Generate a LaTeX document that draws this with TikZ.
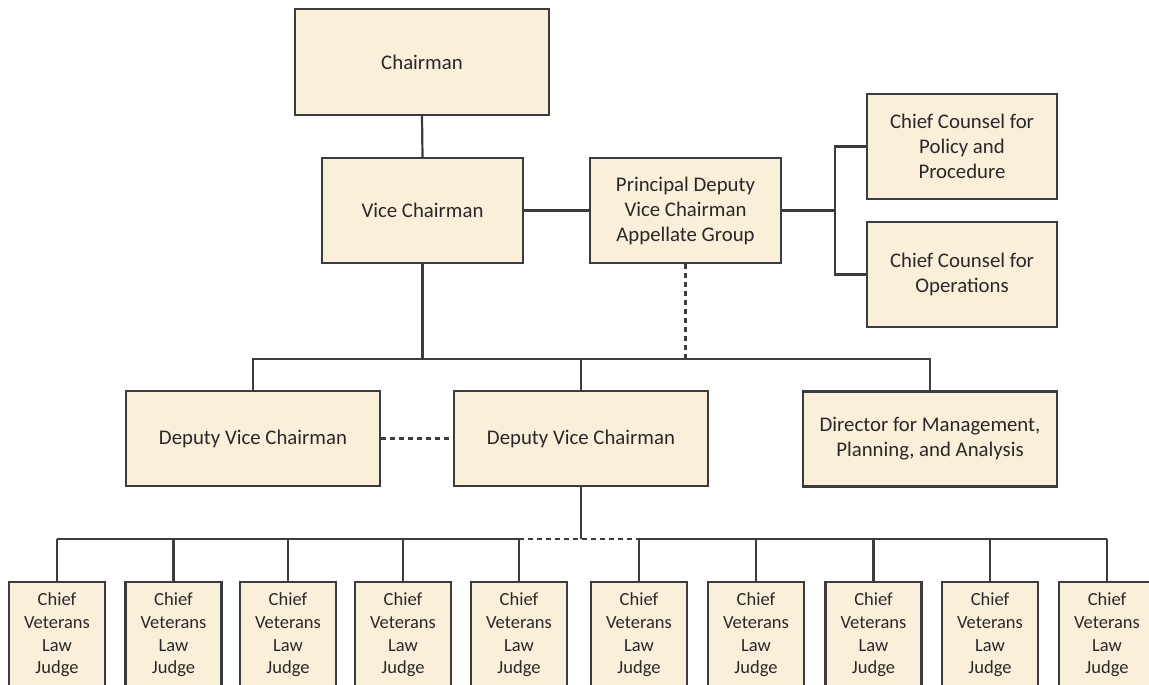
\documentclass[tikz,border=0pt]{standalone}
\usepackage{fontspec}
\setmainfont{Carlito}
\definecolor{boxfill}{RGB}{250,240,218}
\definecolor{boxline}{RGB}{60,60,60}
\definecolor{txt}{RGB}{40,40,40}
\tikzset{
  orgbox/.style={draw=boxline, fill=boxfill, line width=2.2pt, align=center,
    text=txt, font=\fontsize{20.8}{25}\selectfont, inner sep=0pt},
  judgebox/.style={orgbox, font=\fontsize{18.5}{22.7}\selectfont,
    minimum width=96pt, minimum height=106pt, anchor=north},
  link/.style={draw=boxline, line width=2.2pt},
  dlink/.style={link, dash pattern=on 5pt off 4pt},
}
\begin{document}
\begin{tikzpicture}[x=1pt,y=-1pt]
\useasboundingbox (0,0) rectangle (1149,685);
\clip (0,0) rectangle (1149,685);
\fill[white] (0,0) rectangle (1149,685);
\node[orgbox, minimum width=254pt, minimum height=106pt] (chair) at (422,62) {Chairman};
\node[orgbox, minimum width=201pt, minimum height=105pt] (vc) at (422.5,210.5) {Vice Chairman};
\node[orgbox, minimum width=191pt, minimum height=105pt] (pdvc) at (685.5,210.5) {Principal Deputy\\Vice Chairman\\Appellate Group};
\node[orgbox, minimum width=190pt, minimum height=105pt] (ccpp) at (962,146.5) {Chief Counsel for\\Policy and\\Procedure};
\node[orgbox, minimum width=190pt, minimum height=105pt] (ccops) at (962,274.5) {Chief Counsel for\\Operations};
\node[orgbox, minimum width=254pt, minimum height=95pt] (dvc1) at (253,438.5) {Deputy Vice Chairman};
\node[orgbox, minimum width=254pt, minimum height=95pt] (dvc2) at (581,438.5) {Deputy Vice Chairman};
\node[orgbox, minimum width=254pt, minimum height=95pt] (dir) at (930,439) {Director for Management,\\Planning, and Analysis};
\foreach \i/\x in {1/57,2/173.5,3/288,4/403,5/519,6/639,7/756,8/873.5,9/990,10/1107}{
  \node[judgebox] (j\i) at (\x,581) {Chief\\Veterans\\Law\\Judge};
}
\coordinate (bx) at (835,0);
\coordinate (b2) at (0,359);
\coordinate (b3) at (0,539);
\draw[link] (chair.south) -- (vc.north);
\draw[link] (vc.east) -- (pdvc.west);
\draw[link] (pdvc.east) -- (pdvc.east -| bx);
\draw[link] (ccpp.west) -- (ccpp.west -| bx) -- (ccops.west -| bx) -- (ccops.west);
\draw[link] (vc.south) -- (vc.south |- b2);
\draw[link] (dvc1.north) -- (dvc1.north |- b2) -- (dir.north |- b2) -- (dir.north);
\draw[link] (dvc2.north) -- (dvc2.north |- b2);
\draw[dlink] (pdvc.south) -- (pdvc.south |- b2);
\draw[dlink] (dvc1.east) -- (dvc2.west);
\draw[link] (dvc2.south) -- (dvc2.south |- b3);
\draw[link] (j1.north |- b3) -- (j5.north |- b3);
\draw[dlink] (j5.north |- b3) -- (j6.north |- b3);
\draw[link] (j6.north |- b3) -- (j10.north |- b3);
\foreach \i in {1,...,10}{
  \draw[link] (j\i.north) -- (j\i.north |- b3);
}
\end{tikzpicture}
\end{document}
